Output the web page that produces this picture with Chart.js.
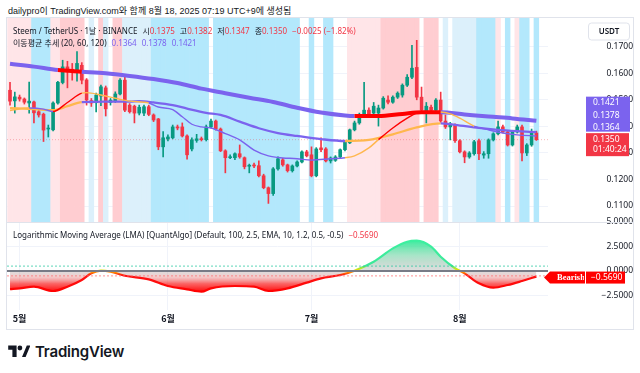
<!DOCTYPE html>
<html>
<head>
<meta charset="utf-8">
<script src="https://cdn.jsdelivr.net/npm/chart.js@4.4.1/dist/chart.umd.min.js"></script>
<style>
  html, body { margin: 0; padding: 0; background: #fff; }
  body { width: 640px; height: 373px; position: relative; overflow: hidden;
         font-family: "Noto Sans", "Noto Sans CJK KR", sans-serif; color: #131722; }
  #wrap { position: absolute; left: 7px; top: 18px; width: 626px; height: 311px; }
  #frame { position: absolute; left: 6px; top: 17px; width: 628px; height: 313px;
           border: 1px solid #e0e3eb; box-sizing: border-box; pointer-events: none; }
  .t { position: absolute; white-space: nowrap; line-height: 12px; }
  .red { color: #f23645; }
  .pur { color: #7b63ee; }
  .gap { margin-left: 5px; }
  #logo { position: absolute; left: 8px; top: 342px; height: 18px; display: flex; align-items: center; }
  #logo span { font-family: Inter, "Noto Sans", sans-serif; font-weight: 600; font-size: 15px;
               margin-left: 5px; letter-spacing: -0.2px; }
</style>
</head>
<body>
<div class="t" style="left:8px;top:5px;font-family:'Liberation Sans','Noto Sans CJK KR';font-size:9px;">dailypro이 TradingView.com와 함께 8월 18, 2025 07:19 UTC+9에 생성됨</div>
<div id="wrap"><canvas id="chart" width="626" height="311"></canvas></div>
<div id="frame"></div>
<div class="t" style="left:13px;top:24.5px;font-size:8px;">Steem / TetherUS · 1날 · BINANCE<span class="gap">시</span><span class="red">0.1375</span><span class="gap">고</span><span class="red">0.1382</span><span class="gap">저</span><span class="red">0.1347</span><span class="gap">종</span><span class="red">0.1350</span><span class="red gap">−0.0025 (−1.82%)</span></div>
<div class="t" style="left:13px;top:37px;font-size:8px;">이동평균 추세 (20, 60, 120)<span class="pur gap">0.1364</span><span class="pur gap">0.1378</span><span class="pur gap">0.1421</span></div>
<div class="t" style="left:13px;top:229px;font-size:8px;">Logarithmic Moving Average (LMA) [QuantAlgo] (Default, 100, 2.5, EMA, 10, 1.2, 0.5, -0.5)<span class="red gap">−0.5690</span></div>
<div id="logo">
  <svg width="22" height="12" viewBox="0 0 36 20"><path d="M0 1h14v19H7V8H0z M23 20l8-19h6l-8 19z" fill="#131722"/><circle cx="19.5" cy="5" r="4" fill="#131722"/></svg>
  <span>TradingView</span>
</div>

<script>
// Daily STEEM/USDT candles, 29 Apr .. 17 Aug (index 0 = first bar)
const opens = [0.1536,0.1496,0.1510,0.1503,0.1488,0.1492,0.1455,0.1446,0.1390,0.1387,
  0.1488,0.1565,0.1624,0.1615,0.1608,0.1630,0.1575,0.1497,0.1489,0.1514,
  0.1545,0.1490,0.1497,0.1522,0.1574,0.1480,0.1476,0.1450,0.1450,0.1474,
  0.1443,0.1428,0.1323,0.1353,0.1357,0.1398,0.1398,0.1364,0.1315,0.1347,
  0.1353,0.1350,0.1398,0.1420,0.1390,0.1308,0.1282,0.1282,0.1297,0.1282,
  0.1250,0.1253,0.1252,0.1214,0.1169,0.1147,0.1240,0.1274,0.1255,0.1233,
  0.1251,0.1266,0.1304,0.1293,0.1214,0.1319,0.1315,0.1270,0.1272,0.1285,
  0.1312,0.1338,0.1387,0.1413,0.1439,0.1461,0.1450,0.1450,0.1469,0.1499,
  0.1491,0.1510,0.1518,0.1555,0.1585,0.1622,0.1510,0.1458,0.1472,0.1461,
  0.1499,0.1420,0.1398,0.1405,0.1346,0.1304,0.1285,0.1297,0.1346,0.1292,
  0.1297,0.1349,0.1372,0.1398,0.1379,0.1330,0.1379,0.1398,0.1300,0.1330,0.1375];
const highs = [0.1566,0.1529,0.1518,0.1507,0.1567,0.1495,0.1460,0.1450,0.1405,0.1492,
  0.1570,0.1649,0.1645,0.1637,0.1682,0.1640,0.1580,0.1505,0.1525,0.1555,
  0.1552,0.1505,0.1530,0.1580,0.1595,0.1486,0.1480,0.1480,0.1480,0.1480,
  0.1447,0.1430,0.1380,0.1368,0.1405,0.1405,0.1413,0.1368,0.1357,0.1370,
  0.1360,0.1405,0.1427,0.1424,0.1394,0.1312,0.1293,0.1300,0.1330,0.1285,
  0.1258,0.1262,0.1270,0.1220,0.1172,0.1245,0.1285,0.1280,0.1258,0.1255,
  0.1270,0.1308,0.1310,0.1323,0.1320,0.1357,0.1320,0.1285,0.1290,0.1315,
  0.1345,0.1390,0.1420,0.1450,0.1566,0.1470,0.1490,0.1480,0.1512,0.1515,
  0.1515,0.1530,0.1560,0.1595,0.1705,0.1724,0.1548,0.1490,0.1480,0.1505,
  0.1529,0.1443,0.1415,0.1410,0.1350,0.1308,0.1305,0.1347,0.1352,0.1305,
  0.1353,0.1376,0.1420,0.1405,0.1383,0.1383,0.1405,0.1405,0.1335,0.1390,0.1382];
const lows = [0.1480,0.1450,0.1495,0.1484,0.1450,0.1413,0.1435,0.1343,0.1360,0.1383,
  0.1484,0.1560,0.1545,0.1574,0.1570,0.1560,0.1480,0.1475,0.1454,0.1478,
  0.1439,0.1480,0.1490,0.1518,0.1455,0.1450,0.1413,0.1443,0.1440,0.1440,
  0.1418,0.1312,0.1285,0.1345,0.1353,0.1387,0.1360,0.1277,0.1308,0.1340,
  0.1345,0.1345,0.1394,0.1386,0.1305,0.1225,0.1278,0.1275,0.1280,0.1240,
  0.1225,0.1245,0.1210,0.1165,0.1110,0.1140,0.1235,0.1250,0.1228,0.1228,
  0.1247,0.1262,0.1285,0.1210,0.1210,0.1305,0.1266,0.1262,0.1268,0.1280,
  0.1308,0.1335,0.1383,0.1408,0.1435,0.1440,0.1445,0.1401,0.1465,0.1485,
  0.1487,0.1505,0.1510,0.1550,0.1580,0.1500,0.1450,0.1413,0.1455,0.1458,
  0.1415,0.1392,0.1349,0.1340,0.1300,0.1263,0.1280,0.1292,0.1275,0.1280,
  0.1280,0.1345,0.1368,0.1375,0.1326,0.1326,0.1375,0.1270,0.1290,0.1325,0.1347];
const closes = [0.1495,0.1511,0.1503,0.1491,0.1495,0.1451,0.1443,0.1386,0.1393,0.1488,
  0.1566,0.1624,0.1605,0.1608,0.1637,0.1574,0.1499,0.1488,0.1518,0.1549,
  0.1466,0.1499,0.1522,0.1574,0.1461,0.1455,0.1450,0.1472,0.1474,0.1445,
  0.1424,0.1323,0.1357,0.1360,0.1398,0.1394,0.1364,0.1293,0.1349,0.1353,
  0.1350,0.1398,0.1420,0.1390,0.1308,0.1282,0.1285,0.1297,0.1285,0.1248,
  0.1253,0.1251,0.1214,0.1169,0.1147,0.1240,0.1278,0.1255,0.1233,0.1251,
  0.1266,0.1304,0.1289,0.1214,0.1315,0.1312,0.1270,0.1281,0.1285,0.1312,
  0.1342,0.1387,0.1413,0.1443,0.1461,0.1446,0.1476,0.1469,0.1506,0.1491,
  0.1510,0.1525,0.1555,0.1585,0.1619,0.1510,0.1461,0.1476,0.1461,0.1499,
  0.1420,0.1398,0.1409,0.1346,0.1304,0.1285,0.1300,0.1342,0.1297,0.1297,
  0.1349,0.1372,0.1398,0.1379,0.1330,0.1379,0.1398,0.1300,0.1330,0.1375,0.1350];

// trend background per bar: P light red, R red, C cyan, B light blue, W none
const bandCodes = "PPPPP CCCC PP RRRRR W B W R B W RR BBBBBB CCCCCCCCCCCC W CCCCCCCCCCCCCCCCCC WW C WW CC WWW PPPPPPP RRRRRRRR W RRR W B W BBBBB CCCC P W C W P CC W C"
  .replace(/ /g, "").split("");

// moving average trend lines (bar index, value, colour code of the segment that starts there)
const ma20Idx = [0,4,7,9,12,15,16,19,22,25,29,31,34,36,38,40,42,45,48,51,54,56,60,63,67,70,72,75,77,80,83,85,88,90,92,94,97,100,103,106,110];
const ma20Val = [0.1460,0.1469,0.1465,0.1456,0.1490,0.1525,0.1527,0.1518,0.1506,0.1495,0.1488,0.1473,0.1463,0.1436,0.1408,0.1398,0.1394,0.1373,0.1349,0.1311,0.1289,0.1283,0.1278,0.1273,0.1278,0.1282,0.1289,0.1319,0.1350,0.1394,0.1431,0.1450,0.1456,0.1454,0.1447,0.1431,0.1401,0.1387,0.1375,0.1368,0.1364];
const ma20Col = "opprrooooopppppppppppppppooorrrrrooopppppp";
const ma60Idx = [0,5,9,12,15,20,25,27,30,34,37,41,44,48,52,56,60,65,70,75,80,85,90,93,98,102,106,110];
const ma60Val = [0.1469,0.1465,0.1461,0.1476,0.1491,0.1493,0.1493,0.1495,0.1490,0.1480,0.1467,0.1451,0.1443,0.1418,0.1393,0.1375,0.1364,0.1352,0.1345,0.1349,0.1370,0.1396,0.1411,0.1406,0.1394,0.1387,0.1382,0.1378];
const ma60Col = "ooooppppppppppppppooooppppppp";
const ma120Idx = [0,5,10,15,20,25,30,35,40,45,50,55,60,65,70,72,77,82,86,90,95,100,105,110];
const ma120Val = [0.1636,0.1625,0.1612,0.1606,0.1600,0.1590,0.1578,0.1563,0.1542,0.1525,0.1508,0.1492,0.1470,0.1452,0.1441,0.1439,0.1439,0.1447,0.1453,0.1453,0.1445,0.1437,0.1430,0.1421];
const ma120Col = "pprpppppppppppprrrrppppp";
const maLast = [0.1421, 0.1378, 0.1364];

// Logarithmic Moving Average oscillator
const lmaIdx = [0,2,5,9,12,15,17,19,21,24,29,33,37,40,42,47,51,54,58,62,65,69,72,76,80,83,85,88,90,93,95,98,101,104,107,110];
const lmaVal = [-1.85,-1.77,-1.60,-2.04,-1.60,-0.92,-0.24,0.03,-0.07,-0.48,-0.85,-1.53,-1.87,-2.11,-1.77,-1.53,-1.60,-2.04,-1.77,-1.19,-0.75,-0.41,0.03,0.95,2.31,2.99,3.09,2.48,1.46,0.28,-0.24,-1.26,-1.70,-1.43,-1.02,-0.569];
const lmaLevels = [0.5, -0.5];

const monthIdx = [2, 33, 63, 94];
const monthLabels = ["5월", "6월", "7월", "8월"];
const priceTicks = [0.11, 0.12, 0.13, 0.14, 0.15, 0.16, 0.17];
const lmaTicks = [-2.5, 0, 2.5, 5];

const priceMin = 0.1040, priceMax = 0.1808;
const lmaMin = -3.98, lmaMax = 5.0;
const xMin = -0.63, xMax = 112.43;
const lastClose = closes[closes.length - 1];

const UP = "#089981", DOWN = "#f23645";
const maColors = { p: "#7b63ee", o: "#ffb74d", r: "#ff0000" };
const bandColors = { P: "#ffe5e8", R: "#ffcdd1", C: "#b3e8fc", B: "#dcf0fb" };
const axisW = 85;

const bandData = [], bandFill = [];
bandCodes.forEach((c, i) => {
  if (c === "W") return;
  bandData.push({ x: i, y: [priceMin, priceMax] });
  bandFill.push(bandColors[c]);
});

const candleCol = opens.map((o, i) => (closes[i] >= o ? UP : DOWN));
const bodies = opens.map((o, i) => ({ x: i, y: [o, closes[i]] }));
const wicks = lows.map((l, i) => ({ x: i, y: [l, highs[i]] }));

const pts = (idx, val) => idx.map((x, k) => ({ x, y: val[k] }));
const segCol = (codes) => (c) => maColors[codes[c.p0DataIndex]];
const flat = (v) => [{ x: xMin, y: v }, { x: xMax, y: v }];

// value-based vertical gradients for the oscillator
const lmaGradient = (chart, stops) => {
  const s = chart.scales.y2;
  if (!chart.chartArea || !s) return stops[stops.length - 1][1];
  const top = s.getPixelForValue(3.2), bot = s.getPixelForValue(-2.2);
  const g = chart.ctx.createLinearGradient(0, top, 0, bot);
  stops.forEach(([v, col]) => g.addColorStop(Math.min(1, Math.max(0, (3.2 - v) / 5.4)), col));
  return g;
};
const strokeStops = [[3.2, "#3cf0a0"], [0.55, "#3ce898"], [0.22, "#c6e81c"], [0.02, "#ffd400"], [-0.18, "#ff7a00"], [-0.42, "#ff1414"], [-2.2, "#ff0000"]];
const fillStops = [[3.2, "rgba(40,236,150,0.95)"], [1.6, "rgba(120,215,170,0.65)"], [0.0, "rgba(160,160,160,0.35)"],
  [-0.6, "rgba(230,140,140,0.45)"], [-1.3, "rgba(250,60,60,0.8)"], [-2.2, "rgba(255,0,0,1)"]];

// tick padding pushes the labels into the price column; keep it from padding the plot vertically
const fitAxis = (s) => { s.width = axisW; s.paddingTop = 0; s.paddingBottom = 0; };

const tags = {
  id: "tags",
  afterDraw(chart) {
    const { ctx, chartArea, scales: { y, y2 } } = chart;
    const bx = chartArea.right + 38, bw = 44;
    const yl = y.getPixelForValue(lastClose);
    ctx.save();
    ctx.textBaseline = "middle";
    ctx.textAlign = "left";
    ctx.font = "8.5px 'Noto Sans'";
    // moving average values
    ctx.fillStyle = "#7b63ee";
    ctx.fillRect(bx, yl - 43, bw, 35);
    ctx.fillStyle = "#fff";
    maLast.forEach((v, k) => ctx.fillText(v.toFixed(4), bx + 7, yl - 37 + k * 12.5));
    // last price + countdown
    ctx.fillStyle = DOWN;
    ctx.fillRect(bx, yl - 6.5, bw - 1, 23);
    ctx.fillStyle = "#fff";
    ctx.fillText(lastClose.toFixed(4), bx + 7, yl);
    ctx.fillText("01:40:24", bx + 7, yl + 10);
    // currency box
    ctx.fillStyle = "#fff";
    ctx.strokeStyle = "#e0e3eb";
    ctx.beginPath();
    ctx.roundRect(bx + 2.5, 5, 41, 17, 3);
    ctx.fill();
    ctx.stroke();
    ctx.fillStyle = "#131722";
    ctx.font = "600 8px 'Noto Sans'";
    ctx.textAlign = "center";
    ctx.fillText("USDT", bx + 23, 13.5);
    // oscillator state tag
    const lv = lmaVal[lmaVal.length - 1];
    const yo = y2.getPixelForValue(lv) + 1;
    const ax = chartArea.right - 4;
    ctx.fillStyle = "#ff0000";
    ctx.beginPath();
    ctx.moveTo(ax, yo);
    ctx.lineTo(ax + 6, yo - 6);
    ctx.lineTo(bx - 1, yo - 6);
    ctx.lineTo(bx - 1, yo + 6);
    ctx.lineTo(ax + 6, yo + 6);
    ctx.closePath();
    ctx.fill();
    ctx.save();
    ctx.beginPath();
    ctx.rect(ax, yo - 6, bx - 2 - ax, 12);
    ctx.clip();
    ctx.fillStyle = "#fff";
    ctx.font = "bold 8.5px 'Liberation Serif'";
    ctx.textAlign = "left";
    ctx.fillText("Bearish", ax + 13, yo + 0.5);
    ctx.restore();
    ctx.fillStyle = "#ff0000";
    ctx.fillRect(bx, yo - 6, 39, 12);
    ctx.fillStyle = "#fff";
    ctx.font = "8.5px 'Noto Sans'";
    ctx.textAlign = "left";
    ctx.fillText("−" + Math.abs(lv).toFixed(4), bx + 5, yo);
    // pane separator
    ctx.strokeStyle = "#e0e3eb";
    ctx.lineWidth = 1;
    ctx.beginPath();
    ctx.moveTo(0, Math.round(y2.top) + 0.5);
    ctx.lineTo(chart.width, Math.round(y2.top) + 0.5);
    ctx.stroke();
    ctx.restore();
  }
};

const tickFont = { family: "'Noto Sans'", size: 8.5 };

new Chart(document.getElementById("chart"), {
  data: {
    datasets: [
      { type: "bar", label: "bands", data: bandData, backgroundColor: bandFill, yAxisID: "y",
        grouped: false, barPercentage: 1, categoryPercentage: 1, order: 10 },
      { type: "line", label: "last", data: flat(lastClose), yAxisID: "y", borderColor: "rgba(242,54,69,0.35)",
        borderWidth: 1, borderDash: [1, 2], pointRadius: 0, order: 9 },
      { type: "bar", label: "wicks", data: wicks, backgroundColor: candleCol, yAxisID: "y",
        grouped: false, barThickness: 1, order: 8 },
      { type: "bar", label: "bodies", data: bodies, backgroundColor: candleCol, yAxisID: "y",
        grouped: false, barThickness: 3, minBarLength: 1, order: 7 },
      { type: "line", label: "MA120", data: pts(ma120Idx, ma120Val), yAxisID: "y", borderWidth: 4,
        pointRadius: 0, cubicInterpolationMode: "monotone", borderColor: maColors.p,
        segment: { borderColor: segCol(ma120Col) }, order: 6 },
      { type: "line", label: "MA60", data: pts(ma60Idx, ma60Val), yAxisID: "y", borderWidth: 2.3,
        pointRadius: 0, cubicInterpolationMode: "monotone", borderColor: maColors.p,
        segment: { borderColor: segCol(ma60Col) }, order: 5 },
      { type: "line", label: "MA20", data: pts(ma20Idx, ma20Val), yAxisID: "y", borderWidth: 1.4,
        pointRadius: 0, cubicInterpolationMode: "monotone", borderColor: maColors.p,
        segment: { borderColor: segCol(ma20Col) }, order: 4 },
      { type: "line", label: "LMA", data: pts(lmaIdx, lmaVal), yAxisID: "y2", borderWidth: 2.2,
        pointRadius: 0, cubicInterpolationMode: "monotone", fill: "origin",
        borderColor: (c) => lmaGradient(c.chart, strokeStops),
        backgroundColor: (c) => lmaGradient(c.chart, fillStops), order: 3 },
      { type: "line", label: "upper", data: flat(lmaLevels[0]), yAxisID: "y2", borderColor: "rgba(38,200,160,0.75)",
        borderWidth: 1, borderDash: [2, 2], pointRadius: 0, order: 2 },
      { type: "line", label: "lower", data: flat(lmaLevels[1]), yAxisID: "y2", borderColor: "rgba(255,110,110,0.75)",
        borderWidth: 1, borderDash: [2, 2], pointRadius: 0, order: 2 },
      { type: "line", label: "zero", data: flat(0), yAxisID: "y2", borderColor: "#787b86",
        borderWidth: 1.8, pointRadius: 0, order: 1 }
    ]
  },
  options: {
    responsive: false,
    animation: false,
    devicePixelRatio: 1,
    events: [],
    layout: { padding: 0 },
    plugins: { legend: { display: false }, tooltip: { enabled: false } },
    scales: {
      x: {
        type: "linear", min: xMin, max: xMax, offset: false,
        afterBuildTicks: (s) => { s.ticks = monthIdx.map((v) => ({ value: v })); },
        afterFit: (s) => { s.height = 19; s.paddingLeft = 0; s.paddingRight = 0; },
        ticks: { callback: (v) => monthLabels[monthIdx.indexOf(v)], color: "#131722", padding: 3,
                 font: { family: "'Noto Sans CJK KR'", size: 9, weight: "600" }, maxRotation: 0 },
        grid: { color: "#f0f3fa", drawTicks: false, offset: false },
        border: { display: false }
      },
      y: {
        type: "linear", position: "right", stack: "panes", stackWeight: 204, offset: false,
        min: priceMin, max: priceMax,
        afterBuildTicks: (s) => { s.ticks = priceTicks.map((v) => ({ value: v })); },
        afterFit: fitAxis,
        ticks: { callback: (v) => v.toFixed(4), color: "#131722", font: tickFont, crossAlign: "far", padding: 45 },
        grid: { color: "#f0f3fa", drawTicks: false, offset: false },
        border: { display: false }
      },
      y2: {
        type: "linear", position: "right", stack: "panes", stackWeight: 88, offset: false,
        min: lmaMin, max: lmaMax,
        afterBuildTicks: (s) => { s.ticks = lmaTicks.map((v) => ({ value: v })); },
        afterFit: fitAxis,
        ticks: { callback: (v) => (v < 0 ? "−" : "") + Math.abs(v).toFixed(4), color: "#131722", font: tickFont,
                 crossAlign: "far", padding: 41 },
        grid: { color: "#f0f3fa", drawTicks: false, offset: false },
        border: { display: false }
      }
    }
  },
  plugins: [tags]
});
</script>
</body>
</html>
